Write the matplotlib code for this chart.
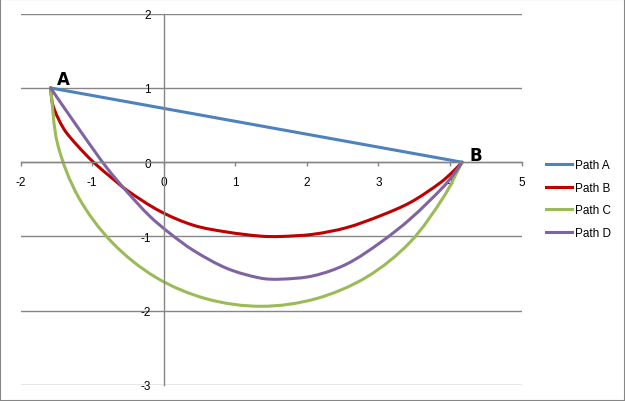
import matplotlib
matplotlib.use('Agg')
from matplotlib import pyplot as plt
from matplotlib.lines import Line2D
from matplotlib.patches import Rectangle, PathPatch
from matplotlib.path import Path
import numpy as np

# end points
a_pt = (-1.58, 1.0)
b_pt = (4.17, 0.0)

# Path A: straight line
path_a_x = [a_pt[0], b_pt[0]]
path_a_y = [a_pt[1], b_pt[1]]

# Path B (red)
path_b_x = [-1.58, -1.545, -1.395, -1.205, -0.98, -0.72, -0.51, -0.05, 0.42, 0.885, 1.35, 1.63,
            2.09, 2.56, 3.03, 3.45, 3.86, 4.05, 4.17]
path_b_y = [1.0, 0.76, 0.45, 0.224, 0.0, -0.215, -0.38, -0.66, -0.85, -0.94, -0.995, -1.0,
            -0.97, -0.88, -0.72, -0.54, -0.28, -0.12, 0.0]

# Path C (green)
path_c_x = [-1.58, -1.48, -1.19, -0.72, -0.11, 0.60, 1.36, 2.12, 2.83, 3.44, 3.91, 4.17]
path_c_y = [1.0, 0.24, -0.47, -1.08, -1.55, -1.84, -1.94, -1.84, -1.55, -1.08, -0.47, 0.0]

# Path D (purple)
path_d_x = [-1.58, -1.12, -0.79, -0.51, -0.19, 0.09, 0.42, 0.885, 1.35, 1.63,
            2.09, 2.56, 3.03, 3.45, 3.91, 4.07, 4.17]
path_d_y = [1.0, 0.36, -0.08, -0.40, -0.73, -0.96, -1.19, -1.43, -1.56, -1.575,
            -1.53, -1.37, -1.08, -0.76, -0.33, -0.14, 0.0]

series = [
    ('Path A', path_a_x, path_a_y, '#4f81bd'),
    ('Path B', path_b_x, path_b_y, '#c00000'),
    ('Path C', path_c_x, path_c_y, '#9bbb59'),
    ('Path D', path_d_x, path_d_y, '#8064a2'),
]


def smooth_path(xs, ys):
    # bezier curve through the points (chord length catmull-rom), like a smoothed line
    p = np.column_stack([xs, ys]).astype(float)
    n = len(p)
    if n < 3:
        return Path(p)
    d = np.hypot(*np.diff(p, axis=0).T)
    t = np.concatenate([[0], np.cumsum(d)])
    m = np.zeros_like(p)
    m[0] = (p[1] - p[0]) / d[0]
    m[-1] = (p[-1] - p[-2]) / d[-1]
    for i in range(1, n - 1):
        m[i] = (p[i + 1] - p[i - 1]) / (t[i + 1] - t[i - 1])
    verts = [p[0]]
    codes = [Path.MOVETO]
    for i in range(n - 1):
        verts += [p[i] + m[i] * d[i] / 3, p[i + 1] - m[i + 1] * d[i] / 3, p[i + 1]]
        codes += [Path.CURVE4] * 3
    return Path(verts, codes)


plt.rcParams['font.family'] = ['Liberation Sans', 'DejaVu Sans']
grid_col = '#868686'

fig = plt.figure(figsize=(6.25, 4.02), dpi=100)
ax = fig.add_axes([20.5 / 625, 1 - 386 / 402, (521.5 - 20.5) / 625, (386 - 14.7) / 402])

handles = []
for name, xs, ys, col in series:
    ax.add_patch(PathPatch(smooth_path(xs, ys), fill=False, edgecolor=col, lw=2.2,
                           capstyle='round', joinstyle='round'))
    handles.append(Line2D([], [], color=col, lw=2.2, label=name))

ax.set_xlim(-2, 5)
ax.set_ylim(-3, 2)
ax.set_xticks(range(-2, 6))
ax.set_yticks(range(-3, 3))

for s in ['top', 'right']:
    ax.spines[s].set_visible(False)
ax.spines['left'].set_position(('data', 0))
ax.spines['bottom'].set_position(('data', 0))
ax.spines['left'].set_color(grid_col)
ax.spines['bottom'].set_color(grid_col)
ax.spines['left'].set_linewidth(1)
ax.spines['bottom'].set_linewidth(1)

ax.yaxis.grid(True, color=grid_col, lw=1)
ax.set_axisbelow(True)
ax.tick_params(axis='x', direction='out', length=3, width=1, color=grid_col, pad=7, labelsize=8.5)
ax.tick_params(axis='y', length=0, pad=9, labelsize=8.5)
ax.set_yticklabels([str(v) for v in range(-3, 3)])
ax.set_xticklabels([str(v) for v in range(-2, 6)])

ax.annotate('A', a_pt, xytext=(9.4, 6.5), textcoords='offset points', ha='center', va='center',
            fontsize=12, fontweight='bold', family='DejaVu Sans')
ax.annotate('B', b_pt, xytext=(9.6, 5.5), textcoords='offset points', ha='center', va='center',
            fontsize=12, fontweight='bold', family='DejaVu Sans')

fig.legend(handles=handles, loc='center left', bbox_to_anchor=(545.7 / 625, 1 - 200 / 402),
           frameon=False, fontsize=8.5, handlelength=2.2, handletextpad=0.3, labelspacing=0.9,
           borderpad=0, borderaxespad=0)

fig.patches.append(Rectangle((0, 0), 1, 1, transform=fig.transFigure, fill=False,
                             edgecolor=grid_col, lw=1.5))

fig.savefig('out.png', dpi=100)
